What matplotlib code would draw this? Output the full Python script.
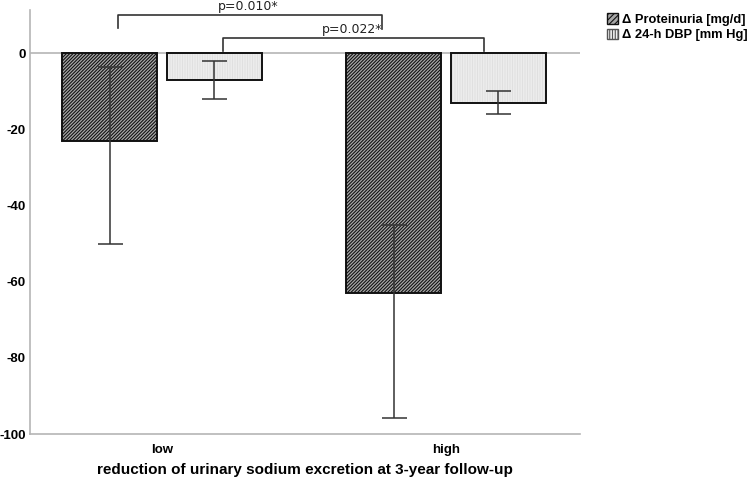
import matplotlib

matplotlib.use("Agg")
import matplotlib.pyplot as plt
import numpy as np
from matplotlib.patches import Patch

groups = ["low", "high"]
prot_vals = [-23.0, -63.0]
prot_hi = [-3.7, -45.0]
prot_lo = [-50.0, -95.8]
dbp_vals = [-7.0, -13.0]
dbp_hi = [-2.0, -10.0]
dbp_lo = [-12.0, -16.0]
series_labels = ["Δ Proteinuria [mg/d]", "Δ 24-h DBP [mm Hg]"]
yticks = [0, -20, -40, -60, -80, -100]
p_texts = ["p=0.010*", "p=0.022*"]

plt.rcParams["font.family"] = ["Liberation Sans", "DejaVu Sans"]
plt.rcParams["hatch.linewidth"] = 0.8

fig = plt.figure(figsize=(7.48, 4.79), dpi=100)
ax = fig.add_axes([0.0401, 0.0939, 0.7353, 0.885])

x = np.arange(len(groups))
w = 0.334
off = 0.1845
xp, xd = x - off, x + off

# proteinuria: dense dark diagonal hatch
ax.bar(xp, prot_vals, w, color="#a8a8a8", hatch="/" * 10, edgecolor="#111111", linewidth=0, zorder=2)
ax.bar(xp, prot_vals, w, fill=False, edgecolor="#111111", linewidth=1.4, zorder=3)
# DBP: light fine fill
ax.bar(xd, dbp_vals, w, color="#f7f7f7", hatch="|" * 10, edgecolor="#e0e0e0", linewidth=0, zorder=2)
ax.bar(xd, dbp_vals, w, fill=False, edgecolor="#111111", linewidth=1.4, zorder=3)

prot_err = [np.array(prot_vals) - np.array(prot_lo), np.array(prot_hi) - np.array(prot_vals)]
dbp_err = [np.array(dbp_vals) - np.array(dbp_lo), np.array(dbp_hi) - np.array(dbp_vals)]
for xx, vv, ee in [(xp, prot_vals, prot_err), (xd, dbp_vals, dbp_err)]:
    ax.errorbar(xx, vv, yerr=ee, fmt="none", ecolor="#333333", elinewidth=1.1,
                capsize=9, capthick=1.1, zorder=4)

ax.axhline(0, color="#b5b5b5", linewidth=1.2, zorder=1)


# significance brackets
def bracket(x0, x1, ytop, yl, yr, text, tx):
    ax.plot([x0, x0, x1, x1], [yl, ytop, ytop, yr], color="#333333", linewidth=1.2,
            clip_on=False, zorder=5)
    ax.text(tx, ytop + 0.6, text, ha="center", va="bottom", fontsize=9,
            family="DejaVu Sans", color="#222222", clip_on=False)


bracket(xp[0] + 0.03, xp[1] - 0.04, 10.0, 6.6, 6.3, p_texts[0], 0.302)
bracket(xd[0] + 0.03, xd[1] - 0.05, 3.9, 0.5, 0.5, p_texts[1], 0.668)

ax.set_xlim(-0.465, 1.472)
ax.set_ylim(-100, 11.3)
ax.set_yticks(yticks)
ax.set_yticklabels([str(t) for t in yticks], fontsize=9.5, fontweight="bold")
ax.set_xticks(x)
ax.set_xticklabels(groups, fontsize=9.5, fontweight="bold")
ax.tick_params(length=0, pad=7)
ax.tick_params(axis="y", pad=3)
ax.set_xlabel("reduction of urinary sodium excretion at 3-year follow-up",
              fontsize=11, fontweight="bold", labelpad=5)

for s in ["top", "right"]:
    ax.spines[s].set_visible(False)
for s in ["left", "bottom"]:
    ax.spines[s].set_color("#b5b5b5")
    ax.spines[s].set_linewidth(1.2)

handles = [
    Patch(facecolor="#a8a8a8", hatch="/" * 6, edgecolor="#111111", linewidth=1),
    Patch(facecolor="#f0f0f0", hatch="|" * 6, edgecolor="#555555", linewidth=1),
]
leg = fig.legend(handles, series_labels, loc="upper left", bbox_to_anchor=(0.800, 0.991),
                 frameon=False, handlelength=0.85, handleheight=0.85, handletextpad=0.3,
                 labelspacing=0.2, borderpad=0.2, prop={"size": 9.3, "weight": "bold"})

fig.savefig("out.png", dpi=100)
